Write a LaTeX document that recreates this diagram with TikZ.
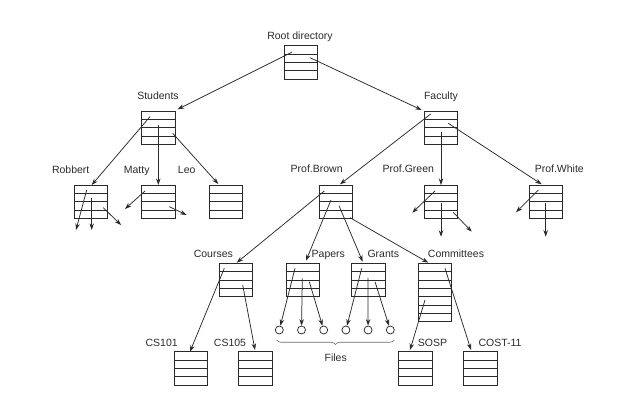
\documentclass[tikz,border=0pt]{standalone}
\usepackage{fontspec}
\setmainfont{Liberation Sans}
\usetikzlibrary{arrows.meta,calc,decorations.pathreplacing}
\definecolor{ink}{HTML}{2A2A2A}
\tikzset{
  dirbox/.style={draw=ink, line width=0.75pt, minimum width=33.3pt, minimum height=#1*8.33pt,
    inner sep=0pt, outer sep=0pt, anchor=north west,
    path picture={\foreach \i in {2,...,#1}
      \draw[ink, line width=0.75pt]
        ($(path picture bounding box.north west)!{(\i-1)/#1}!(path picture bounding box.south west)$) --
        ($(path picture bounding box.north east)!{(\i-1)/#1}!(path picture bounding box.south east)$);}},
  dirbox/.default=4,
  lbl/.style={text=ink, inner sep=0pt, font=\fontsize{10.5}{12}\selectfont, text height=1.5ex, text depth=.25ex, anchor=center},
  arr/.style={draw=ink, line width=0.75pt, -{Stealth[length=6.5pt,width=4.5pt]}},
  file/.style={draw=ink, line width=0.75pt, circle, minimum size=8pt, inner sep=0pt}
}
\begin{document}
\begin{tikzpicture}[x=1pt,y=-1pt]
\useasboundingbox (0,0) rectangle (619,403);
% boxes
\node[dirbox] (root) at (284.3,45.7) {};
\node[dirbox] (stud) at (141.7,111) {};
\node[dirbox] (fac) at (424.3,111) {};
\node[dirbox] (rob) at (74.3,185) {};
\node[dirbox] (mat) at (141.7,185) {};
\node[dirbox] (leo) at (209,185) {};
\node[dirbox] (brown) at (319,185) {};
\node[dirbox] (green) at (424.3,185) {};
\node[dirbox] (white) at (529.3,185) {};
\node[dirbox] (courses) at (219.3,263.3) {};
\node[dirbox] (papers) at (286,263.3) {};
\node[dirbox] (grants) at (351.7,263.3) {};
\node[dirbox=7] (comm) at (418.3,263.3) {};
\node[dirbox] (cs101) at (174.3,351.7) {};
\node[dirbox] (cs105) at (238.7,351.7) {};
\node[dirbox] (sosp) at (398.7,351.7) {};
\node[dirbox] (cost) at (463.7,351.7) {};
% labels
\node[lbl] (lroot) at (300,36) {Root directory};
\node[lbl] (lstud) at (158,96.7) {Students};
\node[lbl] (lfac) at (441,96.7) {Faculty};
\node[lbl] (lrob) at (70.7,170) {Robbert};
\node[lbl] (lmat) at (136.7,170) {Matty};
\node[lbl] (lleo) at (186.7,170) {Leo};
\node[lbl] (lbrown) at (316.7,169.5) {Prof.Brown};
\node[lbl] (lgreen) at (408.3,169.5) {Prof.Green};
\node[lbl] (lwhite) at (559.3,169.5) {Prof.White};
\node[lbl] (lcourses) at (213.3,254.7) {Courses};
\node[lbl] (lpapers) at (328.3,254.7) {Papers};
\node[lbl] (lgrants) at (383.3,254.7) {Grants};
\node[lbl] (lcomm) at (456,254.7) {Committees};
\node[lbl] (lcs101) at (161.7,342.7) {CS101};
\node[lbl] (lcs105) at (230,342.7) {CS105};
\node[lbl] (lsosp) at (432.5,342.7) {SOSP};
\node[lbl] (lcost) at (500,342.7) {COST-11};
\node[lbl] (lfiles) at (335.7,358.3) {Files};
% files
\foreach \k/\x in {1/279.3,2/301.5,3/323.7,4/345.9,5/368.1,6/390.3}
  \node[file] (f\k) at (\x,330) {};
\draw[ink!70, line width=0.6pt, decorate, decoration={brace, mirror, amplitude=4.5pt}] (276.7,340) -- (394.3,340);
% connectors
\newcommand\conn[4]{\draw[arr] ([shift={#2}]#1.north west) -- ([shift={#4}]#3.north west);}
\conn{root}{(7.4,6.6)}{stud}{(36,-1.7)}
\conn{root}{(25.7,12)}{fac}{(-2.6,-1)}
\conn{stud}{(8.3,5.7)}{rob}{(17.4,0)}
\conn{stud}{(16.6,14)}{mat}{(16.6,0)}
\conn{stud}{(31,22.3)}{leo}{(9.3,-1)}
\conn{rob}{(12.4,5)}{rob}{(1.7,45)}
\conn{rob}{(17.4,13.3)}{rob}{(17.4,45)}
\conn{rob}{(29,22.7)}{rob}{(46.7,40)}
\conn{mat}{(3.3,6)}{mat}{(-16.7,24)}
\conn{mat}{(27.6,21.7)}{mat}{(45,30)}
\conn{fac}{(6.4,3)}{brown}{(21,-0.7)}
\conn{fac}{(16.7,20.7)}{green}{(16.7,0)}
\conn{fac}{(24,12.3)}{white}{(12.4,-0.7)}
\conn{green}{(10.7,6)}{green}{(-12,27.7)}
\conn{green}{(16.7,18.3)}{green}{(16.7,51.7)}
\conn{green}{(29,27.3)}{green}{(47.4,46.7)}
\conn{white}{(9,5)}{white}{(-13.3,27.3)}
\conn{white}{(16.4,18.3)}{white}{(16.4,51.7)}
\conn{brown}{(5.3,6)}{courses}{(17.4,-0.6)}
\conn{brown}{(12,15)}{papers}{(20,-2.6)}
\conn{brown}{(20,20.7)}{grants}{(11,-1.6)}
\conn{brown}{(31,32.7)}{comm}{(10,-0.6)}
\conn{courses}{(5,5)}{cs101}{(15.7,0)}
\conn{courses}{(23.4,21.7)}{cs105}{(16.3,-1.7)}
\conn{comm}{(6.7,36.7)}{sosp}{(11.3,-1.7)}
\conn{comm}{(26.7,5)}{cost}{(7.3,-1.7)}
\draw[arr] ([shift={(9,5)}]papers.north west) -- (f1);
\draw[arr] ([shift={(16.3,15)}]papers.north west) -- (f2);
\draw[arr] ([shift={(23.3,18.4)}]papers.north west) -- (f3);
\draw[arr] ([shift={(10,5)}]grants.north west) -- (f4);
\draw[arr] ([shift={(16.4,14.7)}]grants.north west) -- (f5);
\draw[arr] ([shift={(23.3,18.4)}]grants.north west) -- (f6);
\end{tikzpicture}
\end{document}
